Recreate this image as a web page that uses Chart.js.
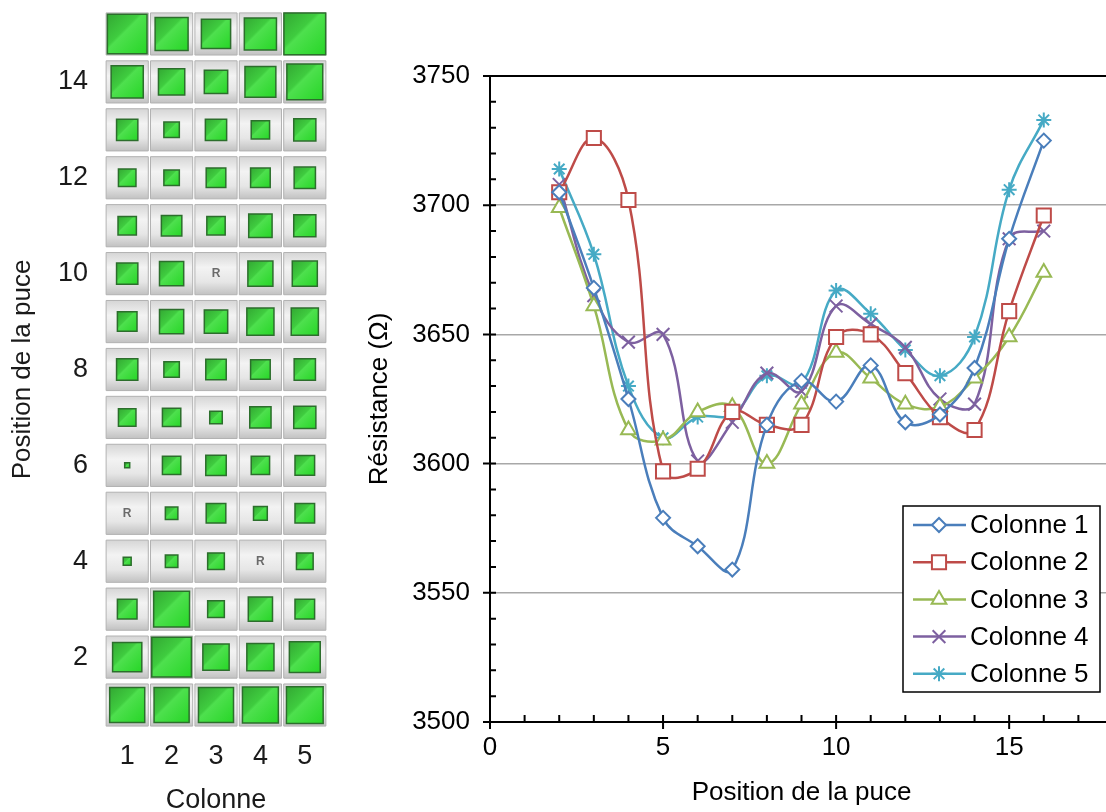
<!DOCTYPE html>
<html>
<head>
<meta charset="utf-8">
<script src="https://cdn.jsdelivr.net/npm/chart.js@4.4.1/dist/chart.umd.min.js"></script>
<style>
html, body { margin:0; padding:0; background:#fff; overflow:hidden; width:1106px; height:812px; }
#gauche { position:absolute; left:0; top:0; }
#droite { position:absolute; left:350px; top:0; }
</style>
</head>
<body>
<canvas id="gauche" width="350" height="812"></canvas>
<canvas id="droite" width="770" height="812"></canvas>
<script>
// ---- données : carte des puces (gauche) ----
const colonnes = [1, 2, 3, 4, 5];
const rangees = [15, 14, 13, 12, 11, 10, 9, 8, 7, 6, 5, 4, 3, 2, 1];
const rangeeEtiquettes = [2, 4, 6, 8, 10, 12, 14];
// taille relative du carré vert (null = puce "R")
const tailles = [
  [0.95, 0.79, 0.70, 0.77, 1.00],
  [0.77, 0.63, 0.56, 0.74, 0.86],
  [0.51, 0.37, 0.51, 0.44, 0.53],
  [0.42, 0.37, 0.47, 0.47, 0.51],
  [0.44, 0.49, 0.44, 0.56, 0.53],
  [0.51, 0.58, null, 0.60, 0.60],
  [0.47, 0.58, 0.56, 0.65, 0.65],
  [0.51, 0.37, 0.49, 0.47, 0.51],
  [0.42, 0.44, 0.30, 0.51, 0.53],
  [0.12, 0.44, 0.49, 0.44, 0.47],
  [null, 0.30, 0.47, 0.33, 0.47],
  [0.19, 0.30, 0.40, null, 0.40],
  [0.47, 0.86, 0.40, 0.58, 0.47],
  [0.70, 0.95, 0.63, 0.65, 0.74],
  [0.84, 0.84, 0.84, 0.86, 0.88]
];

// ---- données : résistance (droite) ----
const positions = [2, 3, 4, 5, 6, 7, 8, 9, 10, 11, 12, 13, 14, 15, 16];
const colonne1 = [3705, 3668, 3625, 3579, 3568, 3559, 3615, 3632, 3624, 3638, 3616, 3619, 3637, 3687, 3725];
const colonne2 = [3705, 3726, 3702, 3597, 3598, 3620, 3615, 3615, 3649, 3650, 3635, 3618, 3613, 3659, 3696];
const colonne3 = [3699, 3661, 3613, 3609, 3620, 3622, 3600, 3623, 3643, 3633, 3623, 3622, 3633, 3649, 3674];
const colonne4 = [3708, 3665, 3647, 3650, 3601, 3616, 3635, 3628, 3661, 3654, 3645, 3625, 3623, 3687, 3690];
const colonne5 = [3714, 3681, 3630, 3610, 3618, 3619, 3634, 3631, 3667, 3658, 3644, 3634, 3649, 3706, 3733];
const yTicks = [3500, 3550, 3600, 3650, 3700, 3750];

const police = 'Liberation Sans, Arial, sans-serif';
const f26 = { family: police, size: 26 };
const f27 = { family: police, size: 27 };

// pas de marge automatique : la zone de tracé est fixée par layout.padding + afterFit
function sansMarge(s) {
  s.paddingTop = 0; s.paddingBottom = 0; s.paddingLeft = 0; s.paddingRight = 0;
}

// ---------------- carte des puces ----------------
function pas(chart) {
  const x = chart.scales.x;
  if (!x) return 44;
  const p = x.getPixelForValue(2) - x.getPixelForValue(1);
  return isFinite(p) && p > 0 ? p : 44;
}

const cellules = [], carres = [], puceR = [];
rangees.forEach((r, i) => {
  colonnes.forEach((c, j) => {
    cellules.push({ x: c, y: r });
    const t = tailles[i][j];
    if (t === null) puceR.push({ x: c, y: r });
    else carres.push({ x: c, y: r, t });
  });
});

function centre(ctx) {
  const s = ctx.chart.scales;
  if (!ctx.raw || !s.x || !s.y) return null;
  const px = s.x.getPixelForValue(ctx.raw.x), py = s.y.getPixelForValue(ctx.raw.y);
  return isFinite(px) && isFinite(py) ? { px, py } : null;
}

function degradeGris(ctx) {
  const c = centre(ctx);
  if (!c) return '#e4e4e4';
  const h = pas(ctx.chart) * 0.47;
  const g = ctx.chart.ctx.createLinearGradient(0, c.py - h, 0, c.py + h);
  g.addColorStop(0, '#d6d6d6');
  g.addColorStop(0.35, '#f3f3f3');
  g.addColorStop(0.7, '#e6e6e6');
  g.addColorStop(1, '#c2c2c2');
  return g;
}

function degradeVert(ctx) {
  const c = centre(ctx);
  if (!c) return '#3cd43c';
  const h = Math.max(pas(ctx.chart) * 0.47 * ctx.raw.t, 1);
  const g = ctx.chart.ctx.createLinearGradient(c.px - h, c.py - h, c.px + h, c.py + h);
  g.addColorStop(0, '#33a833');
  g.addColorStop(0.4, '#3fcc3f');
  g.addColorStop(0.45, '#4ee04e');
  g.addColorStop(1, '#26d626');
  return g;
}

const lettresR = {
  id: 'lettresR',
  afterDatasetsDraw(chart) {
    const { ctx, scales: { x, y } } = chart;
    ctx.save();
    ctx.fillStyle = '#6a6a6a';
    ctx.font = 'bold 12px ' + police;
    ctx.textAlign = 'center';
    ctx.textBaseline = 'middle';
    puceR.forEach(p => ctx.fillText('R', x.getPixelForValue(p.x), y.getPixelForValue(p.y)));
    ctx.restore();
  }
};

const rayonCarre = ctx => ctx.raw ? pas(ctx.chart) * 0.94 * ctx.raw.t / Math.SQRT2 : 5;
const rayonCellule = ctx => pas(ctx.chart) * 0.95 / Math.SQRT2;

new Chart(document.getElementById('gauche'), {
  type: 'scatter',
  data: {
    datasets: [
      {
        data: carres, order: 1,
        pointStyle: 'rect', pointRotation: 0,
        pointRadius: rayonCarre, pointHoverRadius: rayonCarre,
        backgroundColor: degradeVert,
        borderColor: '#2c6e2c', borderWidth: 1.5
      },
      {
        data: cellules, order: 2,
        pointStyle: 'rect', pointRotation: 0,
        pointRadius: rayonCellule, pointHoverRadius: rayonCellule,
        backgroundColor: degradeGris,
        borderColor: '#b2b2b2', borderWidth: 1
      }
    ]
  },
  options: {
    responsive: false, animation: false, events: [],
    layout: { autoPadding: false, padding: { top: 10, right: 23, left: 0, bottom: 0 } },
    plugins: { legend: { display: false }, tooltip: { enabled: false } },
    scales: {
      x: {
        type: 'linear', min: 0.5, max: 5.5,
        afterBuildTicks: s => { s.ticks = colonnes.map(v => ({ value: v })); },
        afterFit: s => { s.height = 83; sansMarge(s); },
        ticks: { font: f27, color: '#1a1a1a', padding: 11 },
        grid: { display: false, drawTicks: false },
        border: { display: false },
        title: { display: true, text: 'Colonne', font: { family: police, size: 27, lineHeight: 1 }, color: '#1a1a1a', padding: { top: 0, bottom: -2 } }
      },
      y: {
        type: 'linear', min: 0.5, max: 15.5,
        afterBuildTicks: s => { s.ticks = rangeeEtiquettes.map(v => ({ value: v })); },
        afterFit: s => { s.width = 105; sansMarge(s); },
        ticks: { font: f27, color: '#1a1a1a', padding: 17 },
        grid: { display: false, drawTicks: false },
        border: { display: false },
        title: { display: true, text: 'Position de la puce', font: f26, color: '#1a1a1a', padding: { top: 7, bottom: 0 } }
      }
    }
  },
  plugins: [lettresR]
});

// ---------------- courbes de résistance ----------------
const series = [
  { label: 'Colonne 1', valeurs: colonne1, couleur: '#4A7EBB', style: 'rectRot', rayon: 7 },
  { label: 'Colonne 2', valeurs: colonne2, couleur: '#BE4B48', style: 'rect', rayon: 10 },
  { label: 'Colonne 3', valeurs: colonne3, couleur: '#98B954', style: 'triangle', rayon: 8.5 },
  { label: 'Colonne 4', valeurs: colonne4, couleur: '#7D60A0', style: 'crossRot', rayon: 9 },
  { label: 'Colonne 5', valeurs: colonne5, couleur: '#46AAC5', style: 'star', rayon: 7.5 }
];

const graduations = {
  id: 'graduations',
  beforeDatasetsDraw(chart) {
    const { ctx, scales: { x, y }, chartArea: a } = chart;
    ctx.save();
    ctx.strokeStyle = '#000';
    ctx.lineWidth = 2;
    ctx.beginPath();
    for (let v = 0; v <= x.max; v++) {
      const px = x.getPixelForValue(v);
      ctx.moveTo(px, a.bottom + (v % 5 === 0 ? 7 : 0));
      ctx.lineTo(px, a.bottom - 7);
    }
    for (let v = y.min; v <= y.max; v += 10) {
      const py = y.getPixelForValue(v);
      ctx.moveTo(a.left - (v % 50 === 0 ? 7 : 0), py);
      ctx.lineTo(a.left + 6, py);
    }
    ctx.stroke();
    ctx.restore();
  }
};

const legende = {
  id: 'legende',
  afterDraw(chart) {
    const { ctx, chartArea: a } = chart;
    const left = a.right - 210, top = a.bottom - 216, w = 197, h = 186;
    ctx.save();
    ctx.fillStyle = '#fff';
    ctx.fillRect(left, top, w, h);
    ctx.strokeStyle = '#000';
    ctx.lineWidth = 1.5;
    ctx.strokeRect(left, top, w, h);
    chart.data.datasets.forEach((ds, i) => {
      const cy = top + 19 + i * 37.2;
      ctx.strokeStyle = ds.borderColor;
      ctx.lineWidth = 2.5;
      ctx.beginPath();
      ctx.moveTo(left + 10, cy);
      ctx.lineTo(left + 63, cy);
      ctx.stroke();
      ctx.fillStyle = '#fff';
      ctx.lineWidth = 2;
      if (Chart.helpers && Chart.helpers.drawPoint) {
        Chart.helpers.drawPoint(ctx, { pointStyle: ds.pointStyle, radius: ds.pointRadius, rotation: 0, borderWidth: 2 }, left + 36, cy);
      }
      ctx.fillStyle = '#000';
      ctx.font = '26px ' + police;
      ctx.textAlign = 'left';
      ctx.textBaseline = 'middle';
      ctx.fillText(ds.label, left + 67, cy + 1);
    });
    ctx.restore();
  }
};

new Chart(document.getElementById('droite'), {
  type: 'line',
  data: {
    datasets: series.map(s => ({
      label: s.label,
      data: positions.map((p, i) => ({ x: p, y: s.valeurs[i] })),
      borderColor: s.couleur,
      backgroundColor: '#fff',
      borderWidth: 2.5,
      tension: 0.4,
      pointStyle: s.style,
      pointRadius: s.rayon,
      pointBorderWidth: 2,
      pointBackgroundColor: '#fff',
      pointBorderColor: s.couleur,
      fill: false
    }))
  },
  options: {
    responsive: false, animation: false, events: [],
    layout: { autoPadding: false, padding: { top: 76, right: 7, left: 0, bottom: 0 } },
    plugins: { legend: { display: false }, tooltip: { enabled: false } },
    scales: {
      x: {
        type: 'linear', min: 0, max: 18,
        afterFit: s => { s.height = 90; sansMarge(s); },
        ticks: { stepSize: 5, includeBounds: false, font: f26, color: '#000', padding: 10 },
        grid: { display: false, drawTicks: false },
        border: { display: true, color: '#000', width: 2 },
        title: { display: true, text: 'Position de la puce', font: f26, color: '#000', padding: { top: 0, bottom: 4 } }
      },
      y: {
        type: 'linear', min: 3500, max: 3750,
        afterBuildTicks: s => { s.ticks = yTicks.map(v => ({ value: v })); },
        afterFit: s => { s.width = 140; sansMarge(s); },
        ticks: { font: f26, color: '#000', padding: 20, callback: v => String(v) },
        grid: {
          drawTicks: false,
          color: c => c.tick.value === 3750 ? '#000' : (c.tick.value === 3500 ? 'rgba(0,0,0,0)' : '#a8a8a8'),
          lineWidth: c => c.tick.value === 3750 ? 2 : 1.5
        },
        border: { display: true, color: '#000', width: 2 },
        title: { display: true, text: 'Résistance (Ω)', font: f26, color: '#000', padding: { top: 14, bottom: 0 } }
      }
    }
  },
  plugins: [graduations, legende]
});
</script>
</body>
</html>
